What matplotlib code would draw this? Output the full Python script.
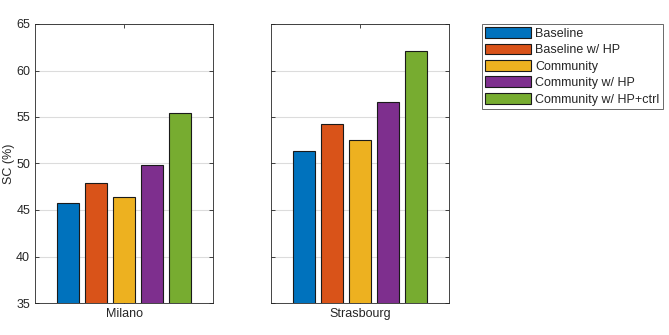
import matplotlib

matplotlib.use("Agg")
import matplotlib.pyplot as plt
import numpy as np

plt.rcParams["font.family"] = ["Liberation Sans", "DejaVu Sans"]

# data
cities = ["Milano", "Strasbourg"]
methods = ["Baseline", "Baseline w/ HP", "Community", "Community w/ HP",
           "Community w/ HP+ctrl"]
milano = [45.7, 47.9, 46.4, 49.8, 55.4]
strasbourg = [51.3, 54.2, 52.5, 56.6, 62.1]
colors = ["#0072BD", "#D95319", "#EDB120", "#7E2F8E", "#77AC30"]

W, H = 669, 335
fig = plt.figure(figsize=(W / 100, H / 100), dpi=100)

edge = "#262626"
panels = [(35, milano, True), (271, strasbourg, False)]
handles = []
for (left, vals, show_y), city in zip(panels, cities):
    ax = fig.add_axes([left / W, (H - 303) / H, 178 / W, 279 / H])
    x = np.arange(len(vals)) - (len(vals) - 1) / 2
    bars = ax.bar(x, vals, width=0.79, color=colors, edgecolor="#1a1a1a",
                  linewidth=0.8, zorder=3)
    handles = bars
    ax.set_xlim(-3.18, 3.18)
    ax.set_ylim(35, 65)
    ax.set_yticks(np.arange(35, 66, 5))
    ax.set_xticks([0])
    ax.set_xticklabels([city])
    ax.grid(axis="y", color="#dcdcdc", linewidth=0.8, zorder=0)
    ax.tick_params(direction="in", length=3, width=0.6, color=edge,
                   labelsize=9, labelcolor="#262626", right=True, top=True)
    if show_y:
        ax.set_ylabel("SC (%)", fontsize=9, color="#262626", labelpad=1)
    else:
        ax.tick_params(labelleft=False)
    for s in ax.spines.values():
        s.set_color(edge)
        s.set_linewidth(0.6)

leg = fig.legend(handles, methods, loc="upper left",
                 bbox_to_anchor=(482 / W, 1 - 24 / H), borderaxespad=0,
                 fontsize=9, frameon=True, fancybox=False, edgecolor=edge,
                 handlelength=3.7, handleheight=0.95, labelspacing=0.3,
                 handletextpad=0.3, borderpad=0.25)
leg.get_frame().set_linewidth(0.6)
for t in leg.get_texts():
    t.set_color("#262626")

fig.savefig("out.png", dpi=100)
